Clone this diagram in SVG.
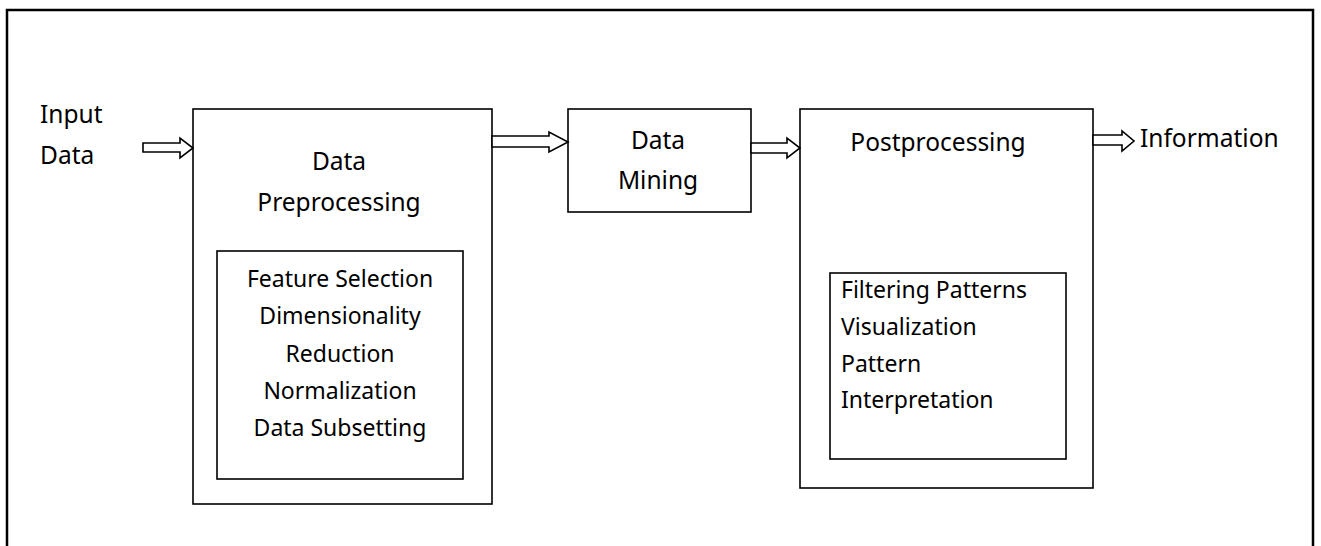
<svg xmlns="http://www.w3.org/2000/svg" width="1321" height="546" viewBox="0 0 1321 546">
  <style>
    .frame { fill: none; stroke: #000; stroke-width: 2.5; }
    .box { fill: #fff; stroke: #000; stroke-width: 1.6; }
    .arrow { fill: #fff; stroke: #000; stroke-width: 1.6; stroke-linejoin: miter; }
    .lbl { font-family: "Noto Sans", "Open Sans", sans-serif; font-size: 24.5px; fill: #000; }
    .sub { font-family: "Noto Sans", "Open Sans", sans-serif; font-size: 23px; fill: #000; }
    .mid { text-anchor: middle; }
  </style>

  <rect width="1321" height="546" fill="#fff"/>
  <!-- page frame (bottom edge runs past the view) -->
  <rect class="frame" x="7" y="10" width="1306" height="600"/>

  <g id="input">
    <text class="lbl" x="40" y="123">Input</text>
    <text class="lbl" x="40" y="164">Data</text>
  </g>

  <g id="preprocessing">
    <rect class="box" x="193" y="109" width="299" height="395"/>
    <text class="lbl mid" x="339" y="170">Data</text>
    <text class="lbl mid" x="339" y="211">Preprocessing</text>
    <rect class="box" x="217" y="251" width="246" height="228"/>
    <text class="sub mid" x="340" y="287">Feature Selection</text>
    <text class="sub mid" x="340" y="324">Dimensionality</text>
    <text class="sub mid" x="340" y="362">Reduction</text>
    <text class="sub mid" x="340" y="399">Normalization</text>
    <text class="sub mid" x="340" y="436">Data Subsetting</text>
  </g>

  <g id="mining">
    <rect class="box" x="568" y="109" width="183" height="103"/>
    <text class="lbl mid" x="658" y="149">Data</text>
    <text class="lbl mid" x="658" y="189">Mining</text>
  </g>

  <g id="postprocessing">
    <rect class="box" x="800" y="109" width="293" height="379"/>
    <text class="lbl mid" x="938" y="151">Postprocessing</text>
    <rect class="box" x="830" y="273" width="236" height="186"/>
    <text class="sub" x="841" y="298">Filtering Patterns</text>
    <text class="sub" x="841" y="335">Visualization</text>
    <text class="sub" x="841" y="372">Pattern</text>
    <text class="sub" x="841" y="408">Interpretation</text>
  </g>

  <g id="output">
    <text class="lbl" x="1140" y="147">Information</text>
  </g>

  <!-- block arrows between stages -->
  <g id="connectors">
    <polygon class="arrow" points="143,143 180,143 180,138 193,148 180,158 180,152 143,152"/>
    <polygon class="arrow" points="492,136 549,136 549,132 568,142 549,152 549,147 492,147"/>
    <polygon class="arrow" points="751,143 787,143 787,138 800,148 787,158 787,153 751,153"/>
    <polygon class="arrow" points="1093,135 1122,135 1122,131 1134,141 1122,151 1122,145 1093,145"/>
  </g>
</svg>
